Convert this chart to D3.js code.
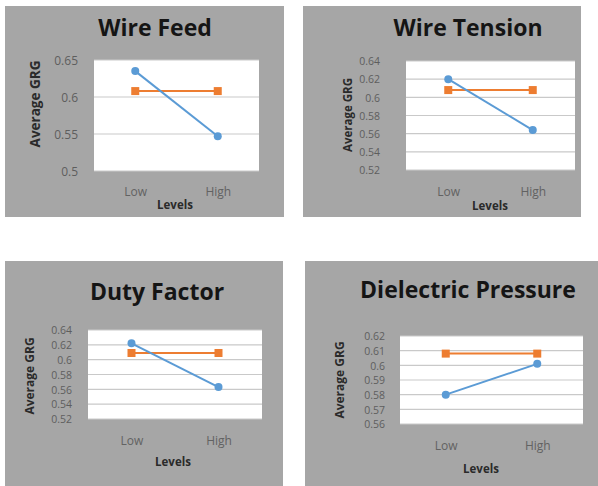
<!DOCTYPE html>
<html><head><meta charset="utf-8">
<script src="https://cdn.jsdelivr.net/npm/d3@7"></script>
<style>body{margin:0;background:#fff}svg{display:block}</style>
</head><body>
<script>
// ---- data ----
const categories = ["Low", "High"];
const titles = ["Wire Feed", "Wire Tension", "Duty Factor", "Dielectric Pressure"];
const averageGRG = [[0.635, 0.547], [0.620, 0.564], [0.622, 0.563], [0.580, 0.601]];
const meanGRG = [[0.608, 0.608], [0.608, 0.608], [0.609, 0.609], [0.608, 0.608]];
const yTicks = [
  [0.5, 0.55, 0.6, 0.65],
  [0.52, 0.54, 0.56, 0.58, 0.6, 0.62, 0.64],
  [0.52, 0.54, 0.56, 0.58, 0.6, 0.62, 0.64],
  [0.56, 0.57, 0.58, 0.59, 0.6, 0.61, 0.62]
];
const yTickLabels = [
  ["0.5", "0.55", "0.6", "0.65"],
  ["0.52", "0.54", "0.56", "0.58", "0.6", "0.62", "0.64"],
  ["0.52", "0.54", "0.56", "0.58", "0.6", "0.62", "0.64"],
  ["0.56", "0.57", "0.58", "0.59", "0.6", "0.61", "0.62"]
];
const yAxisTitle = "Average GRG";
const xAxisTitle = "Levels";

// ---- layout ----
const layout = [
  {bg:[5,6,284,217], plot:[94,60,259,171], titleX:155, titleY:36, tickX:78, tickSize:12, ylabX:40, ylabY:104, ylabSize:13.5, catY:196, levX:175, levY:209},
  {bg:[303,6,581,217], plot:[406,61,575,170], titleX:468, titleY:36, tickX:380, tickSize:10.5, ylabX:352, ylabY:115, ylabSize:11.5, catY:196, levX:490, levY:210},
  {bg:[5,261,283,486], plot:[88,330,262,419], titleX:157, titleY:300, tickX:72, tickSize:10.5, ylabX:34, ylabY:376, ylabSize:12, catY:445, levX:173, levY:466},
  {bg:[305,261,598,486], plot:[400,336,583,424], titleX:468, titleY:298, tickX:385, tickSize:10.5, ylabX:344, ylabY:380, ylabSize:12, catY:450, levX:481, levY:473}
];

const svg = d3.select("body").append("svg").attr("width", 598).attr("height", 486);
const font = "'Open Sans', 'Liberation Sans', sans-serif";

titles.forEach((t, i) => {
  const L = layout[i];
  const g = svg.append("g");
  g.append("rect").attr("x", L.bg[0]).attr("y", L.bg[1])
    .attr("width", L.bg[2] - L.bg[0]).attr("height", L.bg[3] - L.bg[1]).attr("fill", "#a6a6a6");
  const [x0, y0, x1, y1] = L.plot;
  g.append("rect").attr("x", x0).attr("y", y0).attr("width", x1 - x0).attr("height", y1 - y0).attr("fill", "#fff");

  const ticks = yTicks[i];
  const y = d3.scaleLinear().domain([ticks[0], ticks[ticks.length - 1]]).range([y1, y0]);
  const x = d3.scalePoint().domain(categories).range([x0, x1]).padding(0.5);

  // gridlines
  g.append("g").selectAll("line").data(ticks).join("line")
    .attr("x1", x0).attr("x2", x1).attr("y1", d => y(d)).attr("y2", d => y(d))
    .attr("stroke", "#c9c9c9").attr("stroke-width", 1.2);

  // y axis
  const ya = g.append("g").attr("transform", `translate(${L.tickX},0)`)
    .call(d3.axisLeft(y).tickValues(ticks).tickSize(0).tickPadding(0).tickFormat((d, k) => yTickLabels[i][k]));
  ya.select(".domain").remove();
  ya.selectAll("text").attr("font-family", font).attr("font-size", L.tickSize).attr("fill", "#5e5e5e").attr("dy", "0.35em");

  // x axis labels
  const xa = g.append("g").attr("transform", `translate(0,${L.catY})`)
    .call(d3.axisBottom(x).tickSize(0).tickPadding(0));
  xa.select(".domain").remove();
  xa.selectAll("text").attr("font-family", font).attr("font-size", 12).attr("fill", "#626262").attr("dy", 0);

  // titles
  g.append("text").attr("x", L.titleX).attr("y", L.titleY).attr("text-anchor", "middle")
    .attr("font-family", font).attr("font-weight", "bold").attr("font-size", 23)
    .attr("fill", "#151515").text(t);
  g.append("text").attr("transform", `translate(${L.ylabX},${L.ylabY}) rotate(-90)`).attr("text-anchor", "middle")
    .attr("font-family", font).attr("font-weight", "bold").attr("font-size", L.ylabSize).attr("fill", "#2a2a2a").text(yAxisTitle);
  g.append("text").attr("x", L.levX).attr("y", L.levY).attr("text-anchor", "middle")
    .attr("font-family", font).attr("font-weight", "bold").attr("font-size", 11.5).attr("fill", "#2a2a2a").text(xAxisTitle);

  // mean (orange) series
  const line = d3.line().x((d, k) => x(categories[k])).y(d => y(d));
  g.append("path").datum(meanGRG[i]).attr("d", line).attr("fill", "none").attr("stroke", "#ed7d31").attr("stroke-width", 2);
  g.append("g").selectAll("rect").data(meanGRG[i]).join("rect")
    .attr("x", (d, k) => x(categories[k]) - 4).attr("y", d => y(d) - 4)
    .attr("width", 8).attr("height", 8).attr("fill", "#ed7d31");

  // average (blue) series
  g.append("path").datum(averageGRG[i]).attr("d", line).attr("fill", "none").attr("stroke", "#5b9bd5").attr("stroke-width", 2);
  g.append("g").selectAll("circle").data(averageGRG[i]).join("circle")
    .attr("cx", (d, k) => x(categories[k])).attr("cy", d => y(d)).attr("r", 4).attr("fill", "#5b9bd5");
});
</script>
</body></html>
